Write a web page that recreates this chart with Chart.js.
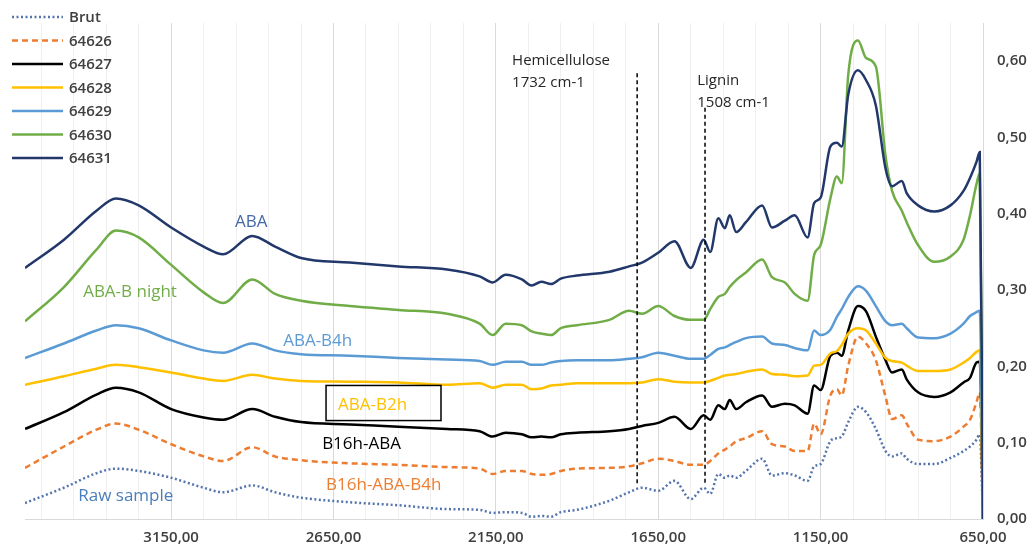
<!DOCTYPE html>
<html>
<head>
<meta charset="utf-8">
<script src="https://cdn.jsdelivr.net/npm/chart.js@4.4.1/dist/chart.umd.min.js"></script>
<style>
  html, body { margin: 0; padding: 0; background: #fff; }
</style>
</head>
<body>
<canvas id="myChart" width="1032" height="547"></canvas>
<script>
// wavenumbers (cm-1)
const wavenumbers = [3600, 3480, 3380, 3320, 3250, 3150, 3050, 2990, 2900, 2830, 2750, 2600, 2450, 2300, 2200,
  2160, 2120, 2070, 2040, 2010, 1980, 1950, 1900, 1800, 1740, 1700, 1650, 1600, 1550, 1510, 1490,
  1465, 1445, 1430, 1410, 1380, 1330, 1300, 1260, 1230, 1190, 1170, 1150, 1120, 1100, 1085,
  1065, 1035, 1010, 980, 950, 930, 900, 885, 850, 800, 750, 710, 690, 670, 660, 650];

const brut = [0.021, 0.041, 0.060, 0.066, 0.063, 0.054, 0.041, 0.035, 0.044, 0.035, 0.028, 0.022, 0.018, 0.013, 0.012,
  0.008, 0.009, 0.008, 0.003, 0.004, 0.003, 0.009, 0.012, 0.024, 0.035, 0.041, 0.037, 0.050, 0.026, 0.041, 0.033,
  0.059, 0.054, 0.057, 0.054, 0.063, 0.079, 0.057, 0.060, 0.057, 0.050, 0.069, 0.072, 0.102, 0.106, 0.108,
  0.127, 0.147, 0.140, 0.118, 0.089, 0.082, 0.086, 0.079, 0.072, 0.072, 0.080, 0.089, 0.095, 0.104, 0.111, 0];
const s64626 = [0.067, 0.095, 0.117, 0.125, 0.117, 0.098, 0.082, 0.076, 0.094, 0.082, 0.077, 0.073, 0.071, 0.068, 0.066,
  0.059, 0.063, 0.063, 0.059, 0.058, 0.059, 0.063, 0.066, 0.067, 0.069, 0.073, 0.079, 0.076, 0.071, 0.071, 0.076,
  0.086, 0.091, 0.095, 0.102, 0.106, 0.115, 0.098, 0.095, 0.089, 0.089, 0.125, 0.111, 0.162, 0.170, 0.162,
  0.201, 0.239, 0.230, 0.208, 0.160, 0.131, 0.136, 0.125, 0.104, 0.102, 0.108, 0.121, 0.130, 0.153, 0.166, 0];
const s64627 = [0.118, 0.140, 0.163, 0.172, 0.166, 0.144, 0.133, 0.130, 0.144, 0.134, 0.127, 0.124, 0.121, 0.118, 0.115,
  0.108, 0.113, 0.111, 0.107, 0.108, 0.107, 0.111, 0.113, 0.115, 0.118, 0.122, 0.126, 0.134, 0.118, 0.136, 0.130,
  0.149, 0.144, 0.156, 0.144, 0.153, 0.162, 0.147, 0.151, 0.149, 0.138, 0.175, 0.169, 0.214, 0.218, 0.214,
  0.247, 0.279, 0.272, 0.239, 0.208, 0.192, 0.196, 0.183, 0.166, 0.160, 0.166, 0.179, 0.185, 0.205, 0.206, 0];
const s64628 = [0.176, 0.187, 0.197, 0.202, 0.199, 0.192, 0.184, 0.181, 0.189, 0.184, 0.181, 0.180, 0.179, 0.176, 0.178,
  0.172, 0.176, 0.176, 0.170, 0.171, 0.175, 0.176, 0.178, 0.178, 0.178, 0.179, 0.183, 0.180, 0.179, 0.179, 0.181,
  0.185, 0.188, 0.189, 0.190, 0.193, 0.196, 0.190, 0.189, 0.187, 0.188, 0.201, 0.202, 0.217, 0.220, 0.228,
  0.243, 0.250, 0.247, 0.230, 0.211, 0.207, 0.205, 0.201, 0.194, 0.194, 0.196, 0.205, 0.211, 0.219, 0.221, 0];
const s64629 = [0.211, 0.230, 0.247, 0.254, 0.250, 0.234, 0.221, 0.218, 0.230, 0.221, 0.216, 0.214, 0.211, 0.209, 0.207,
  0.202, 0.206, 0.206, 0.202, 0.202, 0.205, 0.207, 0.208, 0.208, 0.210, 0.212, 0.218, 0.214, 0.210, 0.210, 0.215,
  0.223, 0.225, 0.228, 0.232, 0.237, 0.239, 0.230, 0.228, 0.224, 0.221, 0.247, 0.241, 0.248, 0.265, 0.275,
  0.291, 0.305, 0.299, 0.279, 0.259, 0.254, 0.256, 0.250, 0.238, 0.237, 0.243, 0.256, 0.266, 0.271, 0.273, 0];
const s64630 = [0.259, 0.304, 0.353, 0.378, 0.369, 0.333, 0.297, 0.283, 0.314, 0.295, 0.286, 0.279, 0.274, 0.269, 0.256,
  0.241, 0.256, 0.254, 0.246, 0.243, 0.241, 0.250, 0.254, 0.261, 0.273, 0.269, 0.279, 0.266, 0.261, 0.261, 0.275,
  0.291, 0.295, 0.304, 0.313, 0.323, 0.340, 0.317, 0.310, 0.295, 0.286, 0.346, 0.359, 0.420, 0.449, 0.440,
  0.582, 0.627, 0.604, 0.593, 0.475, 0.430, 0.404, 0.389, 0.359, 0.337, 0.344, 0.366, 0.398, 0.439, 0.453, 0];
const s64631 = [0.329, 0.366, 0.404, 0.420, 0.411, 0.382, 0.357, 0.347, 0.371, 0.357, 0.342, 0.336, 0.331, 0.327, 0.318,
  0.310, 0.320, 0.314, 0.306, 0.311, 0.308, 0.315, 0.319, 0.324, 0.331, 0.336, 0.349, 0.364, 0.329, 0.366, 0.350,
  0.394, 0.381, 0.398, 0.376, 0.389, 0.411, 0.382, 0.391, 0.398, 0.369, 0.414, 0.421, 0.488, 0.493, 0.488,
  0.556, 0.588, 0.575, 0.542, 0.459, 0.436, 0.443, 0.427, 0.411, 0.403, 0.411, 0.430, 0.447, 0.468, 0.481, 0];

const seriesNames = ['Brut', '64626', '64627', '64628', '64629', '64630', '64631'];
const seriesValues = [brut, s64626, s64627, s64628, s64629, s64630, s64631];
const seriesColors = ['#5474ad', '#ed7d31', '#000000', '#ffc000', '#5b9bd5', '#70ad47', '#22386b'];
const seriesDash = [[2, 2.5], [6, 4], [], [], [], [], []];

const xMajorTicks = [3150, 2650, 2150, 1650, 1150, 650];
const yTicks = [0, 0.1, 0.2, 0.3, 0.4, 0.5, 0.6];

// sample names written next to the curves
const curveLabels = ['ABA', 'ABA-B night', 'ABA-B4h', 'ABA-B2h', 'B16h-ABA', 'B16h-ABA-B4h', 'Raw sample'];
const curveLabelColors = ['#4468a8', '#70ad47', '#5b9bd5', '#ffc000', '#000000', '#ed7d31', '#4a7ebb'];
const curveLabelAt = [[2953, 0.389], [3421, 0.297], [2805, 0.233], [2636, 0.149], [2685, 0.098], [2673, 0.045], [3436, 0.030]];

// band markers
const markerWn = [1715, 1506];
const markerTop = [0.584, 0.539];
const markerText = [['Hemicellulose', '1732 cm-1'], ['Lignin', '1508 cm-1']];
const markerTextAt = [[2100, 0.601], [1530, 0.574]];

const fmt = (v) => v.toFixed(2).replace('.', ',');

const gridWn = [];
for (let w = 650; w < 3600; w += 100) gridWn.push(w);

const datasets = seriesNames.map((name, i) => ({
  label: name,
  data: wavenumbers.map((w, k) => ({ x: w, y: seriesValues[i][k] })),
  borderColor: seriesColors[i],
  borderWidth: 2.5,
  borderDash: seriesDash[i],
  pointRadius: 0,
  cubicInterpolationMode: 'monotone',
  fill: false,
  order: seriesNames.length - i,
}));

const annotate = {
  id: 'annotate',
  afterDatasetsDraw(chart) {
    const { ctx, scales: { x, y } } = chart;
    ctx.save();
    ctx.strokeStyle = '#000';
    ctx.lineWidth = 1.5;
    ctx.setLineDash([4, 3]);
    markerWn.forEach((w, i) => {
      ctx.beginPath();
      ctx.moveTo(x.getPixelForValue(w), y.getPixelForValue(markerTop[i]));
      ctx.lineTo(x.getPixelForValue(w), y.getPixelForValue(0.045));
      ctx.stroke();
    });
    ctx.setLineDash([]);
    ctx.font = '15px "Open Sans"';
    ctx.fillStyle = '#262626';
    ctx.textBaseline = 'middle';
    ctx.textAlign = 'left';
    markerText.forEach((lines, i) => {
      const px = x.getPixelForValue(markerTextAt[i][0]);
      const py = y.getPixelForValue(markerTextAt[i][1]);
      lines.forEach((t, j) => ctx.fillText(t, px, py + j * 22));
    });

    ctx.font = '17px "Open Sans"';
    curveLabels.forEach((t, i) => {
      ctx.fillStyle = curveLabelColors[i];
      ctx.fillText(t, x.getPixelForValue(curveLabelAt[i][0]), y.getPixelForValue(curveLabelAt[i][1]));
    });
    // box round ABA-B2h
    const bx1 = x.getPixelForValue(2673), bx2 = x.getPixelForValue(2319);
    const by1 = y.getPixelForValue(0.175), by2 = y.getPixelForValue(0.129);
    ctx.strokeStyle = '#000';
    ctx.lineWidth = 1.5;
    ctx.strokeRect(bx1, by1, bx2 - bx1, by2 - by1);

    // legend, top left
    ctx.font = '600 15px "Open Sans"';
    seriesNames.forEach((name, i) => {
      const ly = 17 + i * 23.5;
      ctx.strokeStyle = seriesColors[i];
      ctx.lineWidth = 2.5;
      ctx.setLineDash(seriesDash[i]);
      ctx.beginPath();
      ctx.moveTo(12, ly);
      ctx.lineTo(63, ly);
      ctx.stroke();
      ctx.setLineDash([]);
      ctx.fillStyle = '#404040';
      ctx.fillText(name, 69, ly + 1);
    });
    ctx.restore();
  }
};

new Chart(document.getElementById('myChart'), {
  type: 'line',
  data: { datasets },
  plugins: [annotate],
  options: {
    responsive: false,
    animation: false,
    layout: { padding: { left: 25, top: 15, right: 0, bottom: 0 } },
    plugins: { legend: { display: false }, tooltip: { enabled: false } },
    scales: {
      x: {
        type: 'linear',
        reverse: true,
        min: 650,
        max: 3600,
        afterBuildTicks: (scale) => { scale.ticks = gridWn.map((v) => ({ value: v })); },
        afterFit: (scale) => { scale.height = 28; },
        grid: {
          color: (c) => (c.tick && xMajorTicks.includes(c.tick.value) ? '#d9d9d9' : '#efefef'),
          drawTicks: false,
        },
        border: { color: '#d9d9d9' },
        ticks: {
          autoSkip: false,
          maxRotation: 0,
          padding: 10,
          color: '#404040',
          font: { family: 'Open Sans', size: 15, weight: '600' },
          callback: (v) => (xMajorTicks.includes(v) ? fmt(v) : ''),
        },
      },
      y: {
        position: 'right',
        min: 0,
        max: 0.65,
        afterBuildTicks: (scale) => { scale.ticks = yTicks.map((v) => ({ value: v })); },
        afterFit: (scale) => { scale.width = 49; },
        grid: { display: false, drawTicks: false },
        border: { display: false },
        ticks: {
          padding: 14,
          color: '#404040',
          font: { family: 'Open Sans', size: 15, weight: '600' },
          callback: (v) => fmt(v),
        },
      },
    },
  },
});
</script>
</body>
</html>
